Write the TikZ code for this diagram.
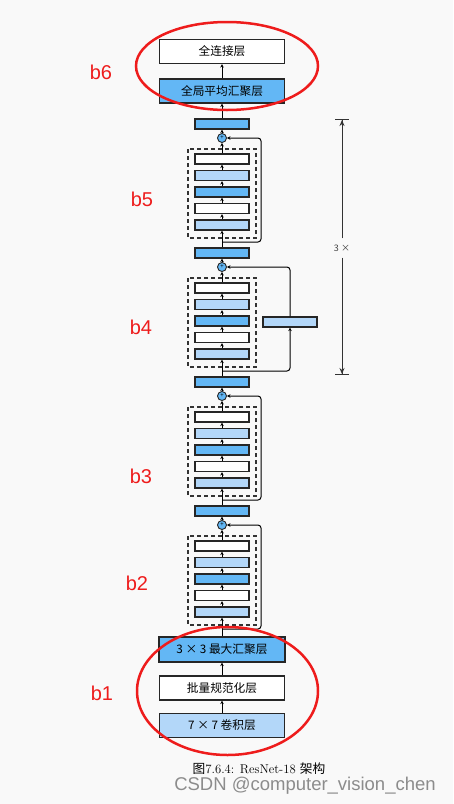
\documentclass[tikz,border=0pt]{standalone}
\usepackage{fontspec}
\newfontfamily\cjk{Noto Sans CJK SC}
\newfontfamily\labelfont{Liberation Sans}
\usetikzlibrary{arrows.meta}
\definecolor{midblue}{HTML}{63B7F5}
\definecolor{lightblue}{HTML}{B3D7F9}
\definecolor{bggray}{HTML}{F9F9F9}
\definecolor{markred}{HTML}{EE1C1C}

\begin{document}
\begin{tikzpicture}[x=1pt, y=-1pt,
  layer/.style={draw=black!85, line width=1.2pt, fill=white, minimum width=54, minimum height=10, inner sep=0},
  biglayer/.style={layer, minimum width=125, minimum height=24, font=\cjk\fontsize{11.7}{12}\selectfont},
  addnode/.style={circle, draw=black!85, fill=midblue, line width=0.9pt, minimum size=9, inner sep=0, font=\cjk\fontsize{6}{6}\selectfont},
  flow/.style={line width=1pt, -{Stealth[length=3.5pt,width=3.5pt]}},
  skipline/.style={flow, rounded corners=3},
  group/.style={draw=black!80, line width=1.1pt, dash pattern=on 4pt off 3pt},
  blocklabel/.style={font=\labelfont\fontsize{20}{20}\selectfont, text=markred},
  ring/.style={draw=markred, line width=2.5pt}
]
\useasboundingbox (0,0) rectangle (453,804);
\fill[bggray] (0,0) rectangle (453,804);

% head of the network
\node[biglayer] (fc) at (222,51.5) {全连接层};
\node[biglayer, fill=midblue] (gap) at (222,91) {全局平均汇聚层};

% residual units, top to bottom
\foreach \b/\t in {5/119, 4/248, 3/377, 2/506} {
  \draw[group] (188,\t+30) rectangle (256,\t+119);
  \node[layer, fill=midblue] (relu\b) at (222,\t+5) {};
  \node[addnode] (add\b) at (222,\t+19) {+};
  \node[layer] (bnB\b) at (222,\t+40) {};
  \node[layer, fill=lightblue] (convB\b) at (222,\t+56.5) {};
  \node[layer, fill=midblue] (reluA\b) at (222,\t+73) {};
  \node[layer] (bnA\b) at (222,\t+89.5) {};
  \node[layer, fill=lightblue] (convA\b) at (222,\t+106) {};
  \coordinate (split\b) at (222,\t+123);
  \draw[flow] (convA\b) -- (bnA\b);
  \draw[flow] (bnA\b) -- (reluA\b);
  \draw[flow] (reluA\b) -- (convB\b);
  \draw[flow] (convB\b) -- (bnB\b);
  \draw[flow] (bnB\b) -- (add\b);
  \draw[flow] (add\b) -- (relu\b);
}

% stem
\node[biglayer, fill=midblue, minimum width=126, minimum height=25] (pool) at (222,649.5) {3 × 3 最大汇聚层};
\node[biglayer] (bn) at (222,688) {批量规范化层};
\node[biglayer, fill=lightblue] (conv) at (222,725.5) {7 × 7 卷积层};

\draw[flow] (conv) -- (bn);
\draw[flow] (bn) -- (pool);
\draw[flow] (pool) -- (convA2);
\draw[flow] (relu2) -- (convA3);
\draw[flow] (relu3) -- (convA4);
\draw[flow] (relu4) -- (convA5);
\draw[flow] (relu5) -- (gap);
\draw[flow] (gap) -- (fc);

% shortcuts
\foreach \b in {5,3,2}
  \draw[skipline] (split\b) -- ++(39,0) |- (add\b);
\node[layer, fill=lightblue] (proj) at (290,322) {};
\draw[skipline] (split4) -| (proj);
\draw[skipline] (proj) |- (add4);

% repeat marker
\node[font=\cjk\fontsize{9}{9}\selectfont, text=black!75, inner sep=6] (times) at (342,248) {3 ×};
\coordinate (reptop) at (342,119);
\coordinate (repbot) at (342,375);
\draw[black!80, line width=1pt, -{Stealth[length=6pt,width=5pt]Bar[width=14pt]}] (times) -- (reptop);
\draw[black!80, line width=1pt, -{Stealth[length=6pt,width=5pt]Bar[width=14pt]}] (times) -- (repbot);

% annotations
\draw[ring] (227,66) ellipse (91 and 44);
\draw[ring] (227.5,691) ellipse (90.5 and 64);
\node[blocklabel] (lb6) at (101,72) {b6};
\node[blocklabel] (lb5) at (142,199) {b5};
\node[blocklabel] (lb4) at (141,327) {b4};
\node[blocklabel] (lb3) at (141,476) {b3};
\node[blocklabel] (lb2) at (137,583) {b2};
\node[blocklabel] (lb1) at (102,693) {b1};

\node[font=\fontsize{12.7}{13}\selectfont] (caption) at (259,769) {{\cjk 图}7.6.4: ResNet-18 {\cjk 架构}};
\node[font=\labelfont\fontsize{18.5}{18.5}\selectfont, text=black!45] (mark) at (305,786) {CSDN @computer\_vision\_chen};
\end{tikzpicture}
\end{document}
